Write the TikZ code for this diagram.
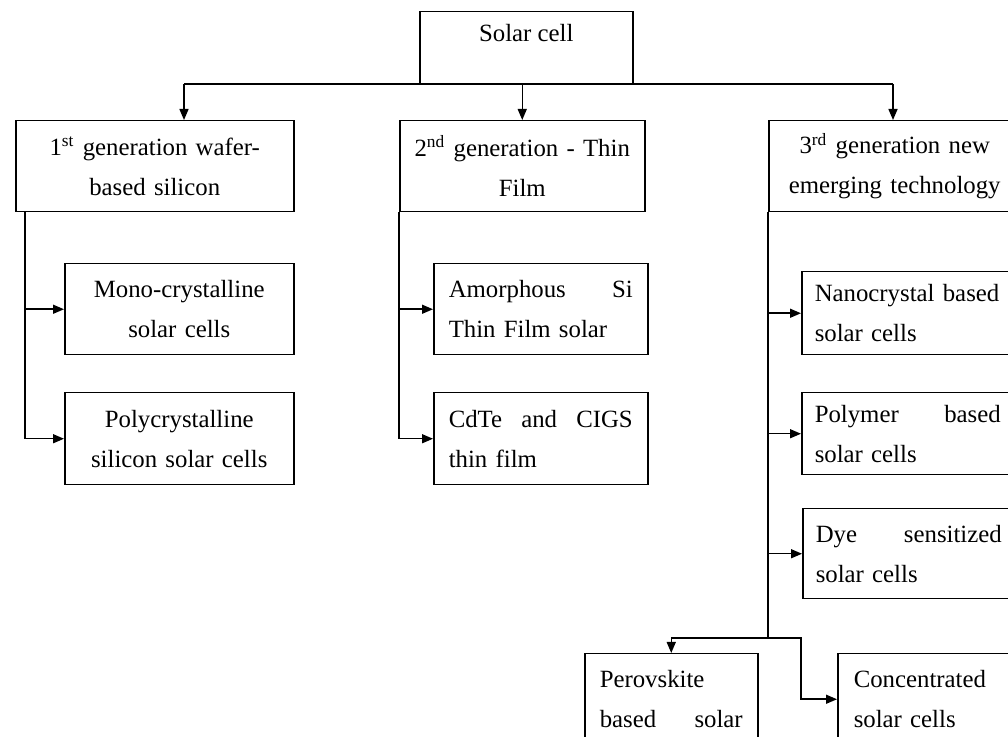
\documentclass[tikz,border=0pt]{standalone}
\usepackage{fontspec}
\setmainfont{Liberation Serif}
\usetikzlibrary{arrows.meta}

\begin{document}
\begin{tikzpicture}[x=0.5pt,y=-0.5pt,
  box/.style={draw, line width=0.75pt, rectangle, inner ysep=0pt, anchor=north west,
    font=\fontsize{12.4pt}{20pt}\selectfont},
  cbox/.style={box, align=center, inner xsep=5pt},
  lbox/.style={box, align=left, inner xsep=7.5pt},
  link/.style={line width=0.75pt},
  arr/.style={link, -{Triangle[length=5.5pt,width=4.5pt]}}]
\clip (0,0) rectangle (1008,737);

% root
\node[box, inner xsep=0pt, minimum width=106.5pt, text height=15pt, text depth=21.5pt] (sc) at (419,11) {Solar cell};

% generations
\node[cbox, text width=129pt, minimum height=45.5pt] (gen1) at (15,120) {1\textsuperscript{st} generation wafer-\\based silicon};
\node[cbox, text width=112.5pt, minimum height=45.5pt] (gen2) at (399,120) {2\textsuperscript{nd} generation - Thin\\Film};
\node[cbox, text width=116pt, minimum height=45.5pt] (gen3) at (768,120) {3\textsuperscript{rd} generation new\\emerging technology};

% 1st generation
\node[cbox, text width=104.5pt, minimum height=45.5pt] (mono) at (64,263) {Mono-crystalline\\solar cells};
\node[cbox, text width=104.5pt, minimum height=46pt] (poly) at (64,392) {Polycrystalline\\silicon solar cells};

% 2nd generation
\node[lbox, text width=92pt, minimum height=45.5pt] (asi) at (433,263) {Amorphous\hfill Si\\Thin Film solar};
\node[lbox, text width=92pt, minimum height=46pt] (cdte) at (433,392) {CdTe\hfill and\hfill CIGS\\thin film};

% 3rd generation
\node[lbox, inner xsep=6.5pt, text width=93pt, minimum height=41.5pt] (nano) at (801,271) {Nanocrystal based\\solar cells};
\node[lbox, inner xsep=6.5pt, text width=93pt, minimum height=41pt] (polymer) at (801,392) {Polymer\hfill based\\solar cells};
\node[lbox, inner xsep=6.5pt, text width=93pt, minimum height=45pt] (dye) at (802,508) {Dye\hfill sensitized\\solar cells};
\node[lbox, text width=71.5pt, minimum height=45.5pt] (perov) at (584,653) {Perovskite\\based\hfill solar};
\node[lbox, inner xsep=8pt, text width=72pt, minimum height=45.5pt] (conc) at (837,653) {Concentrated\\solar cells};

% bus under the root
\coordinate (busL) at (184,84);
\coordinate (busR) at (893,84);
\draw[link] (busL) -- (busR);
\draw[arr] (busL) -- (busL |- gen1.north);
\draw[arr] (gen2.north |- sc.south) -- (gen2.north);
\draw[arr] (busR) -- (busR |- gen3.north);

% branches
\draw[arr] ([xshift=5pt]gen1.south west) |- (mono.west);
\draw[arr] ([xshift=5pt]gen1.south west) |- (poly.west);
\draw[arr] (gen2.south west) |- (asi.west);
\draw[arr] (gen2.south west) |- (cdte.west);
\draw[arr] (gen3.south west) |- (nano.west);
\draw[arr] (gen3.south west) |- (polymer.west);
\draw[arr] (gen3.south west) |- (dye.west);

\coordinate (split) at (768,638);
\coordinate (bend) at (801,638);
\draw[link] (gen3.south west) -- (split);
\draw[arr] (split) -| (perov.north);
\draw[arr] (split) -- (bend) |- (conc.west);
\end{tikzpicture}
\end{document}
